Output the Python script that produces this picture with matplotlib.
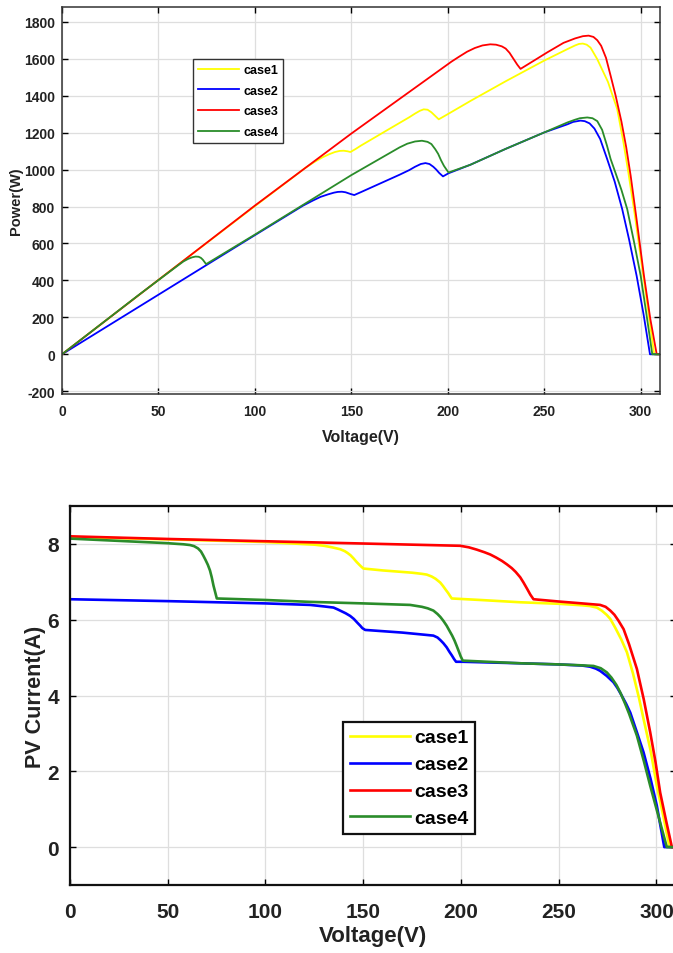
import matplotlib
matplotlib.use("Agg")
import matplotlib.pyplot as plt
from matplotlib import font_manager as fm

plt.rcParams['axes.unicode_minus'] = False

names = {f.name for f in fm.fontManager.ttflist}
NARROW = 'Liberation Sans Narrow' if 'Liberation Sans Narrow' in names else 'Liberation Sans'
WIDE = 'Liberation Sans'

labels = ['case1', 'case2', 'case3', 'case4']
colors = ['#ffff00', '#0000ff', '#ff0000', '#2a8c2a']

# ---------------- Power (W) vs Voltage (V) ----------------
p1_v = [0, 60, 100, 120, 126, 131, 135, 138.5, 141.5, 144, 146, 148, 149.5, 152, 155, 170, 180, 183, 185.5, 187.5, 189.5, 191.5, 193.5, 195.3, 200, 212, 230, 250, 262, 266, 268, 270, 272, 274, 277.4, 283, 287.8, 291, 293.5, 296.5, 301, 304, 307, 310]
p1_p = [0, 483, 802, 960, 1008, 1042, 1066, 1083, 1095, 1101, 1102, 1099, 1095, 1110, 1130, 1222, 1283, 1303, 1318, 1326, 1324, 1310, 1290, 1272, 1300, 1373, 1478, 1590, 1652, 1672, 1680, 1682, 1676, 1660, 1599, 1475, 1328, 1150, 990, 786, 450, 225, 0, 0]

p2_v = [0, 100, 125, 130, 134, 138, 141, 143, 145.1, 147, 149.5, 151.5, 155, 175, 180, 183, 186, 188.4, 190.5, 192.5, 194, 195.5, 197.5, 200.4, 211.7, 230, 250, 262, 265, 268.8, 271, 273.5, 276, 279, 282.6, 286.5, 290.4, 294, 297.9, 301.5, 304.8, 310]
p2_p = [0, 645, 805, 832, 852, 866, 875, 879, 880, 877, 868, 862, 878, 972, 997, 1015, 1030, 1035, 1030, 1015, 1000, 982, 963, 980, 1026, 1112, 1201, 1245, 1258, 1265, 1262, 1250, 1222, 1165, 1057, 935, 786, 620, 424, 215, 0, 0]

p3_v = [0, 100, 150, 180, 196, 202, 206, 210, 214, 218, 222, 225, 228, 230, 232, 234, 236, 237.7, 245, 251.5, 260, 266, 270, 273, 275.5, 277.5, 279.5, 282, 284.4, 287, 290, 292.5, 294.8, 298, 301.7, 305, 308.3, 310]
p3_p = [0, 805, 1195, 1420, 1540, 1585, 1612, 1638, 1658, 1672, 1678, 1676, 1667, 1655, 1632, 1600, 1568, 1545, 1592, 1634, 1686, 1710, 1722, 1725, 1718, 1700, 1670, 1605, 1508, 1400, 1260, 1120, 966, 720, 424, 190, 0, 0]

p4_v = [0, 40, 60, 63, 65.5, 67.5, 69.2, 70.8, 72, 73, 74, 74.7, 100, 150, 175, 179, 183, 186.6, 189.5, 191.5, 193.5, 195, 196.5, 198, 199.3, 200.4, 211.7, 230, 250, 262, 266, 268.5, 272.3, 275, 277.5, 280, 282.5, 284.4, 287, 290, 293, 296.5, 300, 303, 306, 310]
p4_p = [0, 323, 480, 503, 517, 525, 529, 528, 522, 512, 498, 488, 648, 970, 1120, 1140, 1152, 1156, 1150, 1138, 1110, 1085, 1050, 1020, 1000, 984, 1026, 1112, 1201, 1255, 1270, 1278, 1282, 1278, 1262, 1215, 1130, 1057, 980, 890, 786, 610, 424, 215, 0, 0]

# ---------------- PV Current (A) vs Voltage (V) ----------------
i1_v = [0, 50, 100, 117.7, 125, 130, 134, 138.2, 140.5, 142, 143.5, 145, 146.5, 148, 149, 150.1, 160, 175, 180, 182.5, 185, 187, 189.4, 190.8, 192.2, 193.5, 194.5, 195.3, 210, 230.3, 250, 262, 266, 269.5, 272, 274.5, 276.4, 279, 282, 284.9, 288, 291, 293.4, 297, 300.2, 303.5, 306.7, 310]
i1_i = [8.18, 8.12, 8.05, 8.0, 7.98, 7.95, 7.91, 7.86, 7.81, 7.76, 7.70, 7.62, 7.53, 7.45, 7.40, 7.35, 7.30, 7.24, 7.21, 7.19, 7.14, 7.08, 6.98, 6.89, 6.79, 6.70, 6.62, 6.56, 6.52, 6.46, 6.42, 6.38, 6.36, 6.32, 6.24, 6.13, 6.02, 5.78, 5.48, 5.14, 4.58, 3.95, 3.38, 2.55, 1.62, 0.82, 0, 0]

i2_v = [0, 50, 100, 122.8, 130, 134.8, 137, 139, 141, 143.3, 145.2, 147, 148.5, 149.5, 151, 170, 182, 185.9, 188, 189.5, 191, 192.7, 194, 195.3, 196.5, 197.5, 200.9, 230.3, 250, 262, 266, 269, 271.2, 274.5, 278, 280, 282, 284.5, 286.6, 290, 293.4, 297, 300.2, 304, 310]
i2_i = [6.54, 6.49, 6.43, 6.39, 6.35, 6.32, 6.27, 6.22, 6.17, 6.10, 6.02, 5.92, 5.84, 5.78, 5.73, 5.66, 5.60, 5.58, 5.53, 5.46, 5.38, 5.27, 5.16, 5.06, 4.96, 4.89, 4.89, 4.85, 4.82, 4.79, 4.76, 4.71, 4.65, 4.52, 4.35, 4.20, 4.02, 3.78, 3.55, 3.03, 2.50, 1.80, 1.09, 0, 0]

i3_v = [0, 50, 100, 150, 199.6, 204, 208, 212, 215, 218, 221, 223.5, 226, 228, 230.3, 232, 234, 235.5, 237.1, 250, 262, 271.2, 274, 276.4, 278.5, 280.5, 283.2, 286, 290, 293.5, 296.8, 299.5, 301.9, 305, 307.9, 310]
i3_i = [8.20, 8.13, 8.07, 8.01, 7.95, 7.91, 7.85, 7.78, 7.72, 7.64, 7.55, 7.46, 7.36, 7.26, 7.12, 6.98, 6.80, 6.66, 6.54, 6.48, 6.43, 6.39, 6.34, 6.24, 6.13, 5.98, 5.75, 5.35, 4.70, 3.90, 3.03, 2.25, 1.44, 0.68, 0, 0]

i4_v = [0, 49.5, 55, 58, 61.4, 63.5, 65.5, 67, 68.2, 69.3, 70.5, 71.6, 72.5, 73.4, 74.3, 75.1, 100, 122.8, 150, 174, 180, 183, 185.9, 188, 189.5, 191, 192.7, 194.2, 195.5, 196.7, 197.8, 199, 199.8, 200.9, 230.3, 250, 260, 267.8, 271.5, 274.6, 277, 279.5, 281.5, 284, 286, 290, 293.5, 296.8, 301, 305.3, 310]
i4_i = [8.14, 8.02, 8.00, 7.99, 7.97, 7.94, 7.88, 7.80, 7.69, 7.58, 7.45, 7.30, 7.12, 6.90, 6.72, 6.56, 6.52, 6.47, 6.43, 6.39, 6.34, 6.30, 6.24, 6.15, 6.07, 5.97, 5.84, 5.70, 5.58, 5.45, 5.31, 5.15, 5.04, 4.92, 4.85, 4.82, 4.80, 4.78, 4.72, 4.61, 4.47, 4.28, 4.08, 3.78, 3.52, 2.94, 2.28, 1.62, 0.82, 0, 0]

x_ticks = [0, 50, 100, 150, 200, 250, 300]
p_ticks = [-200, 0, 200, 400, 600, 800, 1000, 1200, 1400, 1600, 1800]
i_ticks = [0, 2, 4, 6, 8]

W, H = 673, 954
fig = plt.figure(figsize=(W / 100, H / 100), dpi=100)


def rect(l, t, r, b):
    return [l / W, 1 - b / H, (r - l) / W, (b - t) / H]


def style(ax, tsize, spine_lw, spine_col, pad):
    ax.grid(True, color='#dedede', linewidth=0.9)
    ax.set_axisbelow(True)
    ax.tick_params(direction='in', top=True, right=True, length=4, width=1,
                   labelsize=tsize, pad=pad, colors='black')
    for s in ax.spines.values():
        s.set_linewidth(spine_lw)
        s.set_color(spine_col)
    for t in ax.get_xticklabels() + ax.get_yticklabels():
        t.set_fontfamily([NARROW, 'DejaVu Sans'])
        t.set_fontweight('bold')
        t.set_color('#222222')


# top axes
ax1 = fig.add_axes(rect(62, 8, 660, 395))
pv = [(p1_v, p1_p), (p2_v, p2_p), (p3_v, p3_p), (p4_v, p4_p)]
for (v, p), c, lab in zip(pv, colors, labels):
    ax1.plot(v, p, color=c, lw=1.3, label=lab)
ax1.set_xlim(0, 310)
ax1.set_ylim(-215, 1880)
ax1.set_xticks(x_ticks)
ax1.set_yticks(p_ticks)
style(ax1, 10, 1.1, '#333333', 5)
ax1.tick_params(axis='x', pad=7)
ax1.set_xlabel('Voltage(V)', fontsize=11.5, fontweight='bold', family=[NARROW, 'DejaVu Sans'], labelpad=8, color='#222222')
ax1.set_ylabel('Power(W)', fontsize=10.5, fontweight='bold', family=[WIDE, 'DejaVu Sans'], labelpad=1, color='#222222')
leg1 = ax1.legend(loc='upper left', bbox_to_anchor=((193 - 62) / 598, (395 - 60) / 387),
                  prop={'family': NARROW, 'weight': 'bold', 'size': 9},
                  handlelength=3.3, handletextpad=0.3, borderpad=0.4, labelspacing=0.7,
                  fancybox=False, framealpha=1, edgecolor='#333333', borderaxespad=0)
leg1.get_frame().set_linewidth(1.0)

# bottom axes
ax2 = fig.add_axes(rect(70, 507, 676, 886))
iv = [(i1_v, i1_i), (i2_v, i2_i), (i3_v, i3_i), (i4_v, i4_i)]
for (v, i), c, lab in zip(iv, colors, labels):
    ax2.plot(v, i, color=c, lw=1.9, label=lab)
ax2.set_xlim(0, 310)
ax2.set_ylim(-1, 9)
ax2.set_xticks(x_ticks)
ax2.set_yticks(i_ticks)
style(ax2, 15, 1.6, '#111111', 8)
ax2.tick_params(axis='x', pad=12)
ax2.set_xlabel('Voltage(V)', fontsize=16, fontweight='bold', family=[NARROW, 'DejaVu Sans'], labelpad=3, color='#222222')
ax2.set_ylabel('PV Current(A)', fontsize=15.5, fontweight='bold', family=[WIDE, 'DejaVu Sans'], labelpad=1, color='#222222')
leg2 = ax2.legend(loc='upper left', bbox_to_anchor=((343 - 70) / 606, (886 - 723) / 379),
                  prop={'family': NARROW, 'weight': 'bold', 'size': 14},
                  handlelength=3.1, handletextpad=0.2, borderpad=0.35, labelspacing=0.48,
                  fancybox=False, framealpha=1, edgecolor='#111111', borderaxespad=0)
leg2.get_frame().set_linewidth(1.6)

fig.savefig('out.png', dpi=100)
